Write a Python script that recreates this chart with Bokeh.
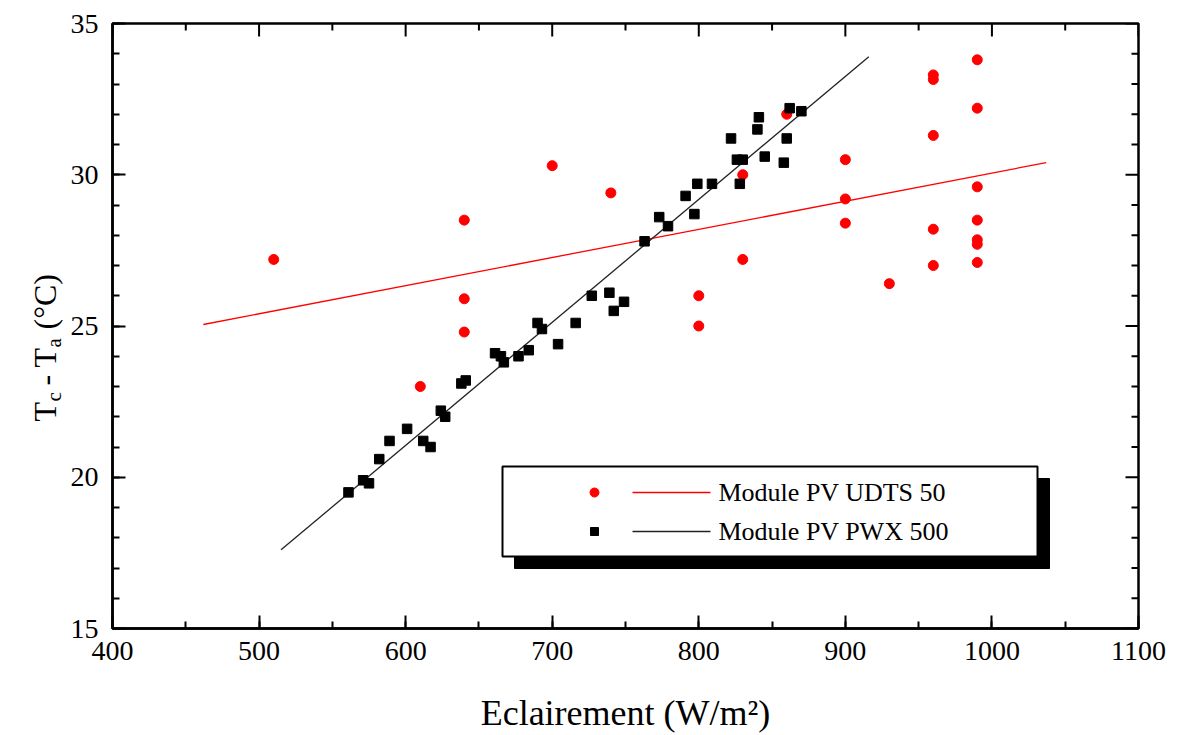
import math
from bokeh.plotting import figure
from bokeh.layouts import row
from bokeh.models import LinearAxis, SingleIntervalTicker, Label
from bokeh.core.properties import value
from bokeh.embed import file_html
from bokeh.resources import INLINE

# ---------------- data ----------------
udts_x = [510, 610, 640, 640, 640, 700, 740, 800, 800, 830, 830, 860, 900, 900, 900,
          930, 960, 960, 960, 960, 960, 990, 990, 990, 990, 990, 990, 990]
udts_y = [27.2, 23.0, 28.5, 25.9, 24.8, 30.3, 29.4, 26.0, 25.0, 30.0, 27.2, 32.0, 30.5, 29.2, 28.4,
          26.4, 33.3, 33.15, 31.3, 28.2, 27.0, 33.8, 32.2, 29.6, 28.5, 27.85, 27.7, 27.1]

pwx_x = [561, 571, 575, 582, 589, 601, 612, 617, 624, 627, 638, 641, 661, 665, 667, 677, 684,
         690, 693, 704, 716, 727, 739, 742, 749, 763, 773, 779, 791, 797, 799, 809, 828, 822,
         826, 830, 840, 841, 845, 858, 860, 862, 870]
pwx_y = [19.5, 19.9, 19.8, 20.6, 21.2, 21.6, 21.2, 21.0, 22.2, 22.0, 23.1, 23.2, 24.1, 24.0,
         23.8, 24.0, 24.2, 25.1, 24.9, 24.4, 25.1, 26.0, 26.1, 25.5, 25.8, 27.8, 28.6, 28.3,
         29.3, 28.7, 29.7, 29.7, 29.7, 31.2, 30.5, 30.5, 31.5, 31.9, 30.6, 30.4, 31.2, 32.2, 32.1]

udts_fit_x = [462, 1037]
udts_fit_y = [25.05, 30.4]
pwx_fit_x = [515, 916]
pwx_fit_y = [17.6, 33.9]

udts_label = "Module PV UDTS 50"
pwx_label = "Module PV PWX 500"
x_title = "Eclairement (W/m\u00b2)"
# y title "T_c - T_a (°C)" split into main text and subscripts
y_title_parts = ["T", "c", "- T", "a", "(\u00b0C)"]
y_title_is_sub = [False, True, False, True, False]

X0, X1, Y0, Y1 = 400, 1100, 15, 35
X_MAJOR, X_MINOR_N = 100, 2
Y_MAJOR, Y_MINOR_N = 5, 5
FONT = "Liberation Serif"

# page / frame geometry (pixels)
W, H = 1177, 735
TW = 64                      # width of the y-title strip
FL, FR, FT, FB = 112, 1138, 23, 628


def px_x(px):
    return X0 + (px - FL) * (X1 - X0) / (FR - FL)


def px_y(py):
    return Y1 - (py - FT) * (Y1 - Y0) / (FB - FT)


p = figure(frame_width=FR - FL, frame_height=FB - FT,
           x_range=(X0, X1), y_range=(Y0, Y1),
           output_backend="svg", toolbar_location=None,
           min_border_left=FL - TW, min_border_right=W - FR,
           min_border_top=FT, min_border_bottom=H - FB,
           x_axis_location=None, y_axis_location=None)
p.background_fill_color = "white"
p.border_fill_color = "white"
p.outline_line_color = "black"
p.outline_line_width = 2.5
p.xgrid.visible = False
p.ygrid.visible = False

MAJ_LEN, MIN_LEN = 13, 7


def make_axis(kind):
    if kind == "x":
        t = SingleIntervalTicker(interval=X_MAJOR, num_minor_ticks=X_MINOR_N)
    else:
        t = SingleIntervalTicker(interval=Y_MAJOR, num_minor_ticks=Y_MINOR_N)
    ax = LinearAxis(ticker=t)
    ax.axis_line_color = "black"
    ax.axis_line_width = 2.5
    ax.major_tick_in = MAJ_LEN
    ax.major_tick_out = 0
    ax.minor_tick_in = MIN_LEN
    ax.minor_tick_out = 0
    ax.major_tick_line_width = 2
    ax.minor_tick_line_width = 2
    ax.major_tick_line_color = "black"
    ax.minor_tick_line_color = "black"
    ax.major_label_text_font = FONT
    ax.major_label_text_color = "black"
    ax.major_label_text_font_size = "28px"
    return ax


xb = make_axis("x")
xb.major_label_standoff = 13
xb.axis_label = x_title
xb.axis_label_text_font = FONT
xb.axis_label_text_font_size = "36px"
xb.axis_label_text_font_style = "normal"
xb.axis_label_text_color = "black"
xb.axis_label_standoff = 30
p.add_layout(xb, "below")

yl = make_axis("y")
yl.major_label_standoff = 14
p.add_layout(yl, "left")

# inward ticks on the top and right frame edges (mirror of the bottom / left axes)
dy_maj = MAJ_LEN * (Y1 - Y0) / (FB - FT)
dy_min = MIN_LEN * (Y1 - Y0) / (FB - FT)
dx_maj = MAJ_LEN * (X1 - X0) / (FR - FL)
dx_min = MIN_LEN * (X1 - X0) / (FR - FL)
x_major_ticks = list(range(X0, X1 + 1, X_MAJOR))
x_minor_ticks = [v + X_MAJOR // 2 for v in range(X0, X1, X_MAJOR)]
y_major_ticks = list(range(Y0, Y1 + 1, Y_MAJOR))
y_minor_ticks = [v for v in range(Y0 + 1, Y1) if v % Y_MAJOR]
p.segment(x0=x_major_ticks, x1=x_major_ticks, y0=[Y1] * len(x_major_ticks),
          y1=[Y1 - dy_maj] * len(x_major_ticks), line_color="black", line_width=2)
p.segment(x0=x_minor_ticks, x1=x_minor_ticks, y0=[Y1] * len(x_minor_ticks),
          y1=[Y1 - dy_min] * len(x_minor_ticks), line_color="black", line_width=2)
p.segment(x0=[X1] * len(y_major_ticks), x1=[X1 - dx_maj] * len(y_major_ticks),
          y0=y_major_ticks, y1=y_major_ticks, line_color="black", line_width=2)
p.segment(x0=[X1] * len(y_minor_ticks), x1=[X1 - dx_min] * len(y_minor_ticks),
          y0=y_minor_ticks, y1=y_minor_ticks, line_color="black", line_width=2)

# fit lines
p.line(udts_fit_x, udts_fit_y, line_color="#ff0000", line_width=1.3)
p.line(pwx_fit_x, pwx_fit_y, line_color="#222222", line_width=1.3)

# data points
p.scatter(udts_x, udts_y, marker="circle", size=10, fill_color="#ff0000", line_color="#ff0000")
p.scatter(pwx_x, pwx_y, marker="square", size=9.5, fill_color="black", line_color="black")

# ---- legend (box with drop shadow) ----
p.quad(left=[px_x(514)], right=[px_x(1049)], top=[px_y(478)], bottom=[px_y(568)],
       fill_color="black", line_color="black")
p.quad(left=[px_x(502)], right=[px_x(1037)], top=[px_y(466)], bottom=[px_y(556)],
       fill_color="white", line_color="black", line_width=2)
p.scatter([px_x(594)], [px_y(492)], marker="circle", size=9, fill_color="#ff0000", line_color="#ff0000")
p.line([px_x(632), px_x(710)], [px_y(492), px_y(492)], line_color="#ff0000", line_width=1.3)
p.scatter([px_x(594)], [px_y(531)], marker="square", size=8, fill_color="black", line_color="black")
p.line([px_x(632), px_x(710)], [px_y(531), px_y(531)], line_color="#222222", line_width=1.3)
for txt, yy in ((udts_label, 492), (pwx_label, 531)):
    p.add_layout(Label(x=px_x(718), y=px_y(yy), text=txt, text_font=FONT,
                       text_font_size="26px", text_baseline="middle", text_align="left",
                       text_color="black"))

# ---- y title strip: same vertical geometry as the main plot ----
t = figure(frame_width=TW, frame_height=FB - FT, x_range=(0, TW), y_range=(Y0, Y1),
           output_backend="svg", toolbar_location=None,
           x_axis_location=None, y_axis_location=None,
           min_border_left=0, min_border_right=0,
           min_border_top=FT, min_border_bottom=H - FB)
t.outline_line_color = None
t.xgrid.visible = False
t.ygrid.visible = False
t.background_fill_color = "white"
t.border_fill_color = "white"

# start position (pixel from top) of each part along the rotated text line
part_start = [421, 401, 385, 347, 329]
for txt, sub, py in zip(y_title_parts, y_title_is_sub, part_start):
    t.text(x=[53 if sub else 44], y=[px_y(py)], text=[txt], angle=math.pi / 2,
           text_font=value(FONT), text_font_size=value("21px" if sub else "32px"),
           text_baseline="alphabetic", text_align="left", text_color="black")

layout = row(t, p, spacing=0)
open("out.html", "w").write(file_html(layout, INLINE))
